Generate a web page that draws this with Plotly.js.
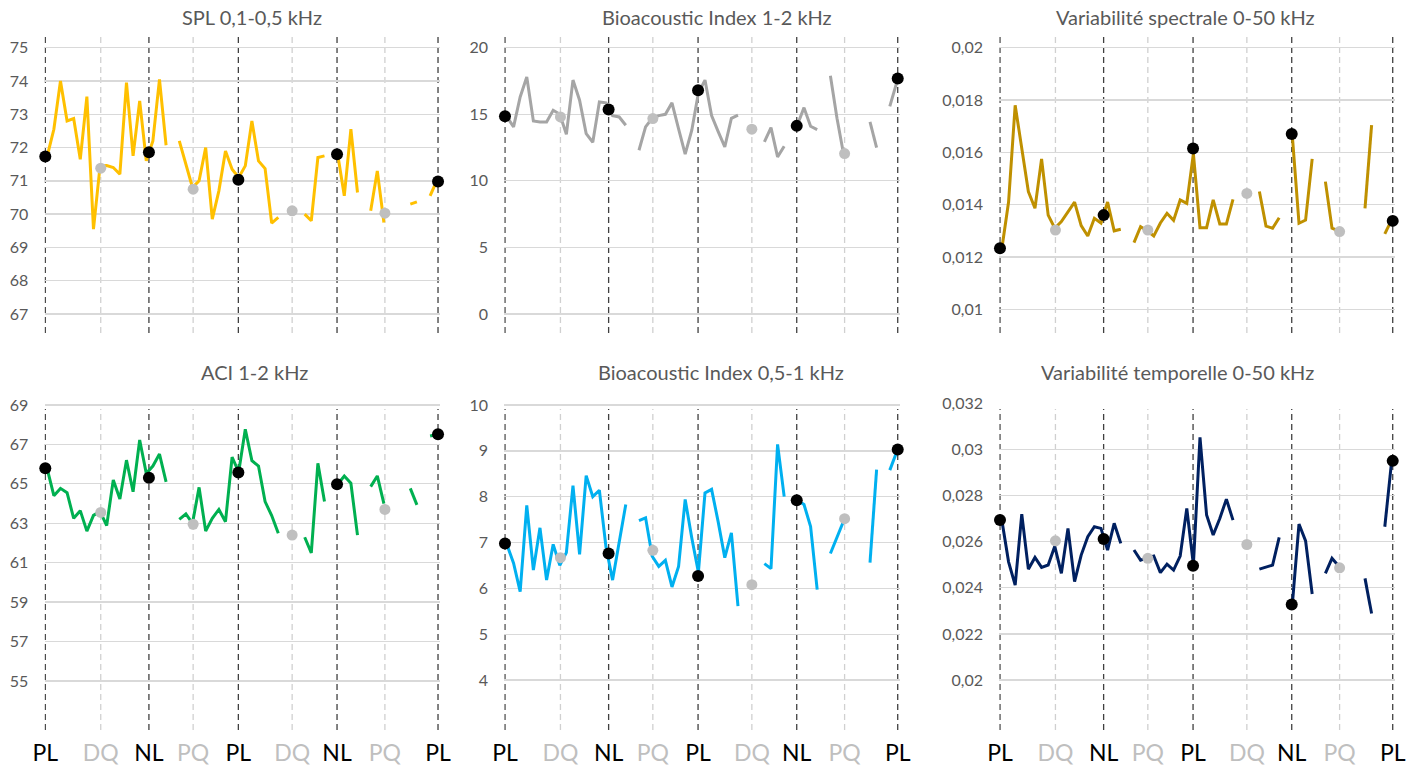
<!DOCTYPE html>
<html><head><meta charset="utf-8">
<script src="https://cdn.plot.ly/plotly-3.0.1.min.js"></script>
<style>html,body{margin:0;padding:0;background:#fff}#chart{width:1416px;height:767px}</style>
</head><body><div id="chart"></div>
<script>
// Day index (one recording per day)
const days = [0,1,2,3,4,5,6,7,8,9,10,11,12,13,14,15,16,17,18,19,20,21,22,23,24,25,26,27,28,29,
  30,31,32,33,34,35,36,37,38,39,40,41,42,43,44,45,46,47,48,49,50,51,52,53,54,55,56,57,58,59];
// Moon phases (day position) and labels
const phaseDays = [-0.3, 8.1, 15.4, 22.1, 28.95, 37.1, 43.9, 51.15, 59.2];
const phaseLabels = ['PL','DQ','NL','PQ','PL','DQ','NL','PQ','PL'];

// Series values (null = missing day)
const splValues = [71.75,72.55,74.0,72.8,72.87,71.65,73.53,69.55,71.45,71.46,71.4,71.2,73.95,71.75,73.4,71.6,72.2,74.05,72.07,null,
  72.2,71.5,70.8,71.0,72.0,69.85,70.7,71.9,71.35,71.1,71.45,72.8,71.6,71.37,69.73,69.9,null,null,null,70.0,
  69.8,71.7,71.75,null,71.8,70.55,72.55,70.65,null,70.1,71.3,69.75,null,null,null,70.3,70.37,null,70.55,71.0];
const splPhase = [71.73,71.38,71.86,70.75,71.03,70.1,71.8,70.03,70.98];

const bi12Values = [14.8,14.05,16.3,17.8,14.5,14.43,14.43,15.3,15.0,13.5,17.57,16.06,13.55,12.9,15.93,15.86,14.9,14.8,14.18,null,
  12.3,14.05,14.7,14.9,15.0,15.86,13.9,12.0,13.8,16.6,17.57,14.9,13.7,12.55,14.7,14.93,null,null,null,12.93,
  14.0,11.8,12.6,null,14.2,15.5,14.1,13.85,null,17.9,14.7,12.0,null,null,null,14.43,12.5,null,15.6,17.3];
const bi12Phase = [14.86,14.8,15.36,14.68,16.81,13.88,14.13,12.05,17.69];

const specValues = [0.01235,0.0141,0.0178,0.0161,0.0145,0.01386,0.01575,0.0136,0.0131,0.01335,0.01373,0.0141,0.0132,0.0128,0.01348,0.0133,0.0141,0.0130,0.01306,null,
  0.01255,0.01316,0.0130,0.0128,0.0133,0.01367,0.0134,0.01418,0.01405,0.01595,0.01312,0.01312,0.01418,0.01326,0.01326,0.0142,null,null,null,0.0145,
  0.01318,0.0131,0.0135,null,0.0166,0.01329,0.01341,0.01575,null,0.01488,0.0131,0.0130,null,null,null,0.01386,0.01704,null,0.01288,0.0134];
const specPhase = [0.01233,0.01303,0.0136,0.01303,0.01615,0.01443,0.0167,0.01297,0.01338];

const aciValues = [65.75,64.4,64.77,64.55,63.25,63.64,62.6,63.4,63.6,62.88,65.2,64.23,66.2,64.6,67.22,65.53,65.9,66.51,65.1,null,
  63.2,63.47,63.0,64.82,62.6,63.25,63.7,63.08,66.35,65.6,67.77,66.18,65.9,64.1,63.39,62.49,null,null,null,62.29,
  61.5,66.04,64.1,null,64.98,65.4,65.03,62.4,null,64.86,65.4,64.0,null,null,null,64.77,63.93,null,67.43,67.5];
const aciPhase = [65.79,63.55,65.31,62.95,65.58,62.4,64.98,63.7,67.51];

const bi051Values = [6.95,6.55,5.93,7.81,6.4,7.32,6.18,6.96,6.5,6.78,8.24,6.74,8.46,8.0,8.14,6.9,6.18,7.0,7.83,null,
  7.48,7.54,6.7,6.48,6.61,6.03,6.48,7.94,7.1,6.35,8.08,8.16,7.45,6.67,7.21,5.61,null,null,null,6.54,
  6.43,9.14,8.0,null,7.92,7.83,7.35,5.97,null,6.76,7.13,7.47,null,null,null,6.56,8.59,null,8.58,8.96];
const bi051Phase = [6.98,6.67,6.76,6.83,6.27,6.08,7.92,7.52,9.03];

const tempValues = [0.0269,0.02513,0.02412,0.0272,0.02481,0.02532,0.02489,0.02499,0.0258,0.02463,0.02658,0.02427,0.02542,0.02622,0.02665,0.02658,0.02564,0.0268,0.02593,null,
  0.02564,0.0252,0.0253,0.02538,0.02466,0.02503,0.02477,0.02538,0.02745,0.025,0.03053,0.02716,0.02629,0.02701,0.02785,0.02694,null,null,null,0.02481,
  0.0249,0.02499,0.02619,null,0.0233,0.02677,0.02604,0.02373,null,0.02463,0.02528,0.02495,null,null,null,0.02441,0.02289,null,0.02665,0.0294];
const tempPhase = [0.02694,0.02604,0.02612,0.02528,0.02496,0.02588,0.02328,0.02487,0.02951];

// Tick values
const splTicks = [67,68,69,70,71,72,73,74,75];
const bi12Ticks = [0,5,10,15,20];
const specTicks = [0.01,0.012,0.014,0.016,0.018,0.02];
const aciTicks = [55,57,59,61,63,65,67,69];
const bi051Ticks = [4,5,6,7,8,9,10];
const tempTicks = [0.02,0.022,0.024,0.026,0.028,0.03,0.032];

const titles = ['SPL 0,1-0,5 kHz','Bioacoustic Index 1-2 kHz','Variabilité spectrale 0-50 kHz',
  'ACI 1-2 kHz','Bioacoustic Index 0,5-1 kHz','Variabilité temporelle 0-50 kHz'];

const W = 1416, H = 767;
const panels = [
  {vals: splValues, ph: splPhase, ticks: splTicks, color:'#FFC000', range:[66.429,75.442], col:0, row:0, tx:252},
  {vals: bi12Values, ph: bi12Phase, ticks: bi12Ticks, color:'#A5A5A5', range:[-1.431,21.107], col:1, row:0, tx:717},
  {vals: specValues, ph: specPhase, ticks: specTicks, color:'#BF9000', range:[0.009094,0.020562], col:2, row:0, tx:1185},
  {vals: aciValues, ph: aciPhase, ticks: aciTicks, color:'#00B050', range:[52.514,69.1], col:0, row:1, tx:254},
  {vals: bi051Values, ph: bi051Phase, ticks: bi051Ticks, color:'#00B0F0', range:[2.909,10.044], col:1, row:1, tx:721},
  {vals: tempValues, ph: tempPhase, ticks: tempTicks, color:'#002060', range:[0.01783,0.0320217], col:2, row:1, tx:1177}
];
const colLeft = [44.5, 504.2, 999.2];
const colWidth = 395.5;
const rowTop = [33, 403], rowBottom = [333, 730];
const titleY = [17, 371.5];
const xRange = [-0.42, 59.5];

const isMain = l => (l === 'PL' || l === 'NL');
const grey = '#BFBFBF';
const fontFam = 'Lato, "Open Sans", "Liberation Sans", sans-serif';

const traces = [], shapes = [], annotations = [];
const layout = {
  width: W, height: H, margin:{l:0,r:0,t:0,b:0},
  paper_bgcolor:'#fff', plot_bgcolor:'#fff', showlegend:false,
  font:{family: fontFam, color:'#595959'}
};

panels.forEach((p, i) => {
  const n = i + 1;
  const xa = 'x' + (n === 1 ? '' : n), ya = 'y' + (n === 1 ? '' : n);
  const xkey = 'xaxis' + (n === 1 ? '' : n), ykey = 'yaxis' + (n === 1 ? '' : n);
  const bottom = p.row === 1;
  layout[xkey] = {
    domain: [colLeft[p.col] / W, (colLeft[p.col] + colWidth) / W],
    range: xRange, anchor: ya, showgrid:false, zeroline:false, showline:false,
    tickmode:'array', tickvals: phaseDays,
    ticktext: phaseLabels.map(l => isMain(l) ? l : '<span style="color:' + grey + '">' + l + '</span>'),
    showticklabels: bottom, ticks: bottom ? 'outside' : '', ticklen: 2, tickcolor:'rgba(0,0,0,0)',
    tickfont:{family: fontFam, size: 23, color:'#000'}, fixedrange:true
  };
  layout[ykey] = {
    domain: [1 - rowBottom[p.row] / H, 1 - rowTop[p.row] / H],
    range: p.range, anchor: xa, showgrid:true, gridcolor:'#D9D9D9', gridwidth:1.3,
    zeroline:false, showline:false, tickmode:'array', tickvals: p.ticks,
    ticktext: p.ticks.map(v => String(v).replace('.', ',')),
    ticks:'outside', ticklen: 12, tickcolor:'rgba(0,0,0,0)',
    tickfont:{family: fontFam, size: 16, color:'#595959'}, fixedrange:true
  };
  // line series
  traces.push({type:'scatter', mode:'lines', x: days, y: p.vals, xaxis: xa, yaxis: ya,
    line:{color: p.color, width: 3}, connectgaps:false, hoverinfo:'skip'});
  // phase dots
  const mainIdx = phaseLabels.map((l, k) => isMain(l) ? k : -1).filter(k => k >= 0);
  const qIdx = phaseLabels.map((l, k) => !isMain(l) ? k : -1).filter(k => k >= 0);
  traces.push({type:'scatter', mode:'markers', x: qIdx.map(k => phaseDays[k]), y: qIdx.map(k => p.ph[k]),
    xaxis: xa, yaxis: ya, marker:{color: grey, size: 11}, cliponaxis:false, hoverinfo:'skip'});
  traces.push({type:'scatter', mode:'markers', x: mainIdx.map(k => phaseDays[k]), y: mainIdx.map(k => p.ph[k]),
    xaxis: xa, yaxis: ya, marker:{color:'#000', size: 12}, cliponaxis:false, hoverinfo:'skip'});
  // vertical phase lines
  phaseDays.forEach((d, k) => {
    shapes.push({type:'line', xref: xa, yref: ya + ' domain', x0: d, x1: d,
      y0: 0, y1: p.row === 0 ? 1 : 0.982, layer:'below',
      line:{color: isMain(phaseLabels[k]) ? '#404040' : '#D0D0D0', width: 1.3, dash:'6px,4px'}});
  });
  annotations.push({xref:'paper', yref:'paper', x: p.tx / W, y: 1 - titleY[p.row] / H,
    xanchor:'center', yanchor:'middle', showarrow:false, text: titles[i],
    font:{family: fontFam, size: 20, color:'#595959'}});
});
layout.shapes = shapes;
layout.annotations = annotations;
Plotly.newPlot('chart', traces, layout, {staticPlot:true, displayModeBar:false});
</script>
</body></html>
